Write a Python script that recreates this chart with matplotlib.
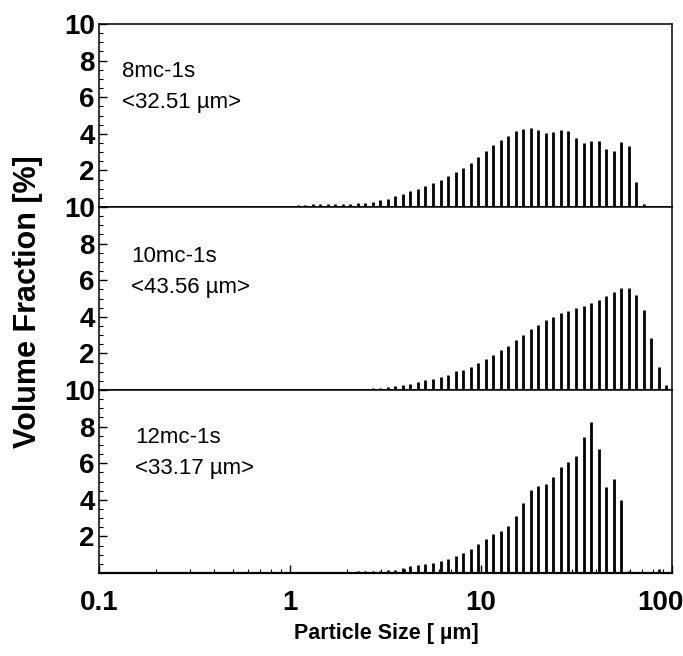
import matplotlib
matplotlib.use("Agg")
import matplotlib.pyplot as plt
import matplotlib.transforms as mtransforms
from matplotlib.ticker import FixedLocator, MultipleLocator, LogLocator, NullFormatter, NullLocator

# particle-size classes (µm), j = -8 .. 50
size_um = [0.484, 0.530, 0.580, 0.635, 0.696, 0.762, 0.834, 0.913,
           1.000, 1.095, 1.199, 1.313, 1.438, 1.574, 1.724, 1.887, 2.067, 2.263,
           2.477, 2.713, 2.971, 3.253, 3.562, 3.899, 4.270, 4.675, 5.119, 5.605,
           6.138, 6.720, 7.359, 8.057, 8.823, 9.661, 10.58, 11.58, 12.68, 13.89,
           15.21, 16.65, 18.23, 19.96, 21.86, 23.93, 26.21, 28.70, 31.42, 34.41,
           37.67, 41.25, 45.17, 49.46, 54.16, 59.29, 64.93, 71.10, 77.85, 85.24,
           93.33]

vf_8mc = [0, 0, 0, 0.03, 0.03, 0.03, 0.03, 0.04,
          0.06, 0.10, 0.12, 0.15, 0.17, 0.16, 0.17, 0.19, 0.19, 0.20,
          0.20, 0.28, 0.37, 0.46, 0.60, 0.72, 0.86, 1.00, 1.16, 1.32,
          1.48, 1.68, 1.89, 2.13, 2.42, 2.75, 3.07, 3.37, 3.67, 3.90,
          4.13, 4.27, 4.34, 4.22, 4.07, 4.11, 4.22, 4.16, 3.77, 3.49,
          3.63, 3.63, 3.17, 3.05, 3.54, 3.33, 1.38, 0.16, 0, 0,
          0]

vf_10mc = [0, 0, 0, 0, 0, 0, 0, 0,
           0.01, 0.01, 0.01, 0.02, 0.02, 0.02, 0.03, 0.03, 0.04, 0.05,
           0.07, 0.10, 0.12, 0.19, 0.22, 0.30, 0.35, 0.43, 0.52, 0.60,
           0.71, 0.82, 1.02, 1.08, 1.27, 1.45, 1.69, 1.92, 2.18, 2.42,
           2.72, 3.02, 3.31, 3.54, 3.82, 3.99, 4.21, 4.34, 4.49, 4.60,
           4.73, 4.92, 5.12, 5.36, 5.59, 5.59, 5.21, 4.38, 2.83, 1.27,
           0.30]

vf_12mc = [0, 0, 0.05, 0.06, 0.06, 0.07, 0.06, 0.06,
           0.05, 0.06, 0.06, 0.07, 0.07, 0.07, 0.08, 0.08, 0.08, 0.10,
           0.11, 0.12, 0.10, 0.15, 0.18, 0.28, 0.37, 0.44, 0.48, 0.55,
           0.66, 0.76, 0.94, 1.10, 1.31, 1.57, 1.84, 2.14, 2.32, 2.56,
           3.09, 3.85, 4.55, 4.73, 4.84, 5.25, 5.80, 6.04, 6.37, 7.44,
           8.27, 6.80, 4.70, 5.16, 4.00, 0.10, 0.08, 0.05, 0, 0.20,
           0]

samples = ["8mc-1s", "10mc-1s", "12mc-1s"]
mean_sizes = ["<32.51 \u00b5m>", "<43.56 \u00b5m>", "<33.17 \u00b5m>"]
series = [vf_8mc, vf_10mc, vf_12mc]
y_ticks = [2, 4, 6, 8, 10]
x_ticks = [0.1, 1, 10, 100]
x_ticklabels = ["0.1", "1", "10", "100"]

plt.rcParams['font.family'] = ['Liberation Sans', 'DejaVu Sans']

W, H = 683, 656
fig = plt.figure(figsize=(W / 100, H / 100), dpi=100)
left, right, top, bottom = 99 / W, 672 / W, 1 - 24 / H, 1 - 573 / H
ph = (top - bottom) / 3
axes = []
for i in range(3):
    ax = fig.add_axes([left, top - (i + 1) * ph, right - left, ph])
    axes.append(ax)

text_pos = [((122, 77), (122, 108)), ((131, 262), (131, 293)), ((135, 443), (135, 474))]

for i, ax in enumerate(axes):
    ax.vlines(size_um, 0, series[i], colors='black', linewidth=2.0)
    ax.set_xscale('log')
    ax.set_xlim(0.1, 100)
    ax.set_ylim(0, 10)
    ax.yaxis.set_major_locator(FixedLocator(y_ticks))
    ax.yaxis.set_minor_locator(MultipleLocator(0.5))
    ax.tick_params(axis='y', which='major', direction='in', length=6, width=1.0, pad=3)
    ax.tick_params(axis='y', which='minor', direction='in', length=3, width=0.8)
    ax.set_yticklabels([str(t) for t in y_ticks], fontweight='bold', fontsize=20)
    for s in ax.spines.values():
        s.set_linewidth(1.1)
    if i < 2:
        ax.xaxis.set_major_locator(NullLocator())
        ax.xaxis.set_minor_locator(NullLocator())
    else:
        ax.xaxis.set_major_locator(FixedLocator(x_ticks))
        ax.xaxis.set_minor_locator(LogLocator(base=10, subs=range(2, 10)))
        ax.xaxis.set_minor_formatter(NullFormatter())
        ax.set_xticklabels(x_ticklabels, fontweight='bold', fontsize=20)
        ax.tick_params(axis='x', which='major', direction='in', length=6, width=1.0, pad=12)
        ax.tick_params(axis='x', which='minor', direction='in', length=3, width=0.8)
        ax.spines['bottom'].set_linewidth(1.6)
        last = ax.get_xticklabels()[-1]
        last.set_transform(last.get_transform() +
                           mtransforms.ScaledTranslation(-12 / 100, 0, fig.dpi_scale_trans))
    (x1, y1), (x2, y2) = text_pos[i]
    fig.text(x1 / W, 1 - y1 / H, samples[i], fontsize=16, va='baseline', ha='left')
    fig.text(x2 / W, 1 - y2 / H, mean_sizes[i], fontsize=16, va='baseline', ha='left')

fig.text(28 / W, 1 - 302 / H, "Volume Fraction [%]", rotation=90, fontsize=22,
         fontweight='bold', ha='center', va='center')
fig.text(386 / W, 1 - 634 / H, "Particle Size [ \u00b5m]", fontsize=15.5,
         fontweight='bold', ha='center', va='center')

fig.savefig("out.png", dpi=100)
